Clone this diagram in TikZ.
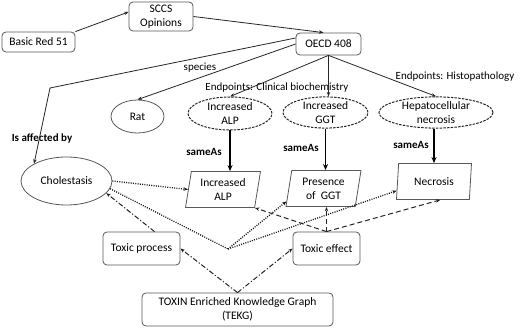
\documentclass[tikz,border=0pt]{standalone}
\usepackage{fontspec}
\setmainfont{Carlito}
\usetikzlibrary{shapes.geometric,arrows.meta,calc}
\begin{document}
\begin{tikzpicture}[x=1pt,y=-1pt,
  every node/.style={font=\fontsize{11.5}{14}\selectfont, align=center, inner sep=0pt},
  rbox/.style={draw=black!65, rounded corners=4pt, line width=0.8pt},
  ell/.style={draw=black!65, ellipse, line width=0.8pt},
  dell/.style={draw=black!85, ellipse, line width=1pt, dash pattern=on 2.5pt off 1.2pt},
  para/.style={draw=black!65, trapezium, trapezium left angle=75, trapezium right angle=105, trapezium stretches body, line width=0.8pt, minimum width=75pt, minimum height=36pt},
  arrtip/.style={-{Stealth[length=4.5pt,width=3.5pt]}},
  conn/.style={draw=black!85, line width=0.8pt, arrtip},
  samearr/.style={draw=black, line width=1.6pt, -{Stealth[length=6pt,width=5pt]}},
  dotconn/.style={draw=black!90, line width=1.3pt, dash pattern=on 1pt off 1.3pt},
  dashconn/.style={draw=black!85, line width=1pt, dash pattern=on 5pt off 3pt},
  ddconn/.style={draw=black!85, line width=1pt, dash pattern=on 5pt off 2pt on 1.2pt off 2pt},
  lab/.style={font=\fontsize{11}{13}\selectfont},
  blab/.style={font=\bfseries\fontsize{11}{13}\selectfont}
]
\fill[white] (0,0) rectangle (520,328);
\useasboundingbox (0,0) rectangle (520,328);

\node[rbox, minimum width=73pt, minimum height=20pt] (br) at (38.5,42) {Basic Red 51};
\node[rbox, minimum width=64pt, minimum height=29pt] (sccs) at (161,16.5) {SCCS\\Opinions};
\node[rbox, minimum width=65pt, minimum height=22pt] (oecd) at (328.5,44) {OECD 408};
\node[ell, minimum width=53pt, minimum height=33pt] (rat) at (137.5,116.5) {Rat};
\node[dell, minimum width=84pt, minimum height=33pt] (alpE) at (230,113.5) {Increased\\ALP};
\node[dell, minimum width=85pt, minimum height=31pt] (ggtE) at (325.5,112.5) {Increased\\GGT};
\node[dell, minimum width=114pt, minimum height=31pt] (necE) at (436,112.5) {Hepatocellular\\necrosis};
\node[para] (alpP) at (223,189.5) {Increased\\ALP};
\node[para] (ggtP) at (323.5,188.5) {Presence\\of~~GGT};
\node[para] (necP) at (434,181.5) {Necrosis};
\node[ell, minimum width=91pt, minimum height=48pt] (chol) at (66.5,181) {Cholestasis};
\node[rbox, minimum width=77pt, minimum height=33pt] (tp) at (141.5,248.5) {Toxic process};
\node[rbox, minimum width=67pt, minimum height=33pt] (te) at (326.5,248.5) {Toxic effect};
\node[rbox, minimum width=191pt, minimum height=33pt] (tekg) at (237.5,309.5) {TOXIN Enriched Knowledge Graph\\(TEKG)};

\node[lab] (lspec) at (200,68) {species};
\node[lab] (lclin) at (277,88) {Endpoints: Clinical biochemistry};
\node[lab] (lhist) at (455,77) {Endpoints: Histopathology};
\node[blab] (laff) at (42,139) {Is affected by};
\node[blab] (ls1) at (204,152) {sameAs};
\node[blab] (ls2) at (301,148) {sameAs};
\node[blab] (ls3) at (411,145) {sameAs};

\coordinate (bend) at (50,88);
\coordinate (conv) at (228,249);

\draw[conn] (br.north east) -- (sccs.172);
\draw[conn] (sccs.east) -- ([xshift=-5pt]oecd.north);
\draw[conn] ([yshift=6pt]oecd.west) -- (bend) -- (chol.152);
\draw[conn] (oecd.west) -- (rat.north);
\draw[conn] (oecd.south) -- (alpE.north);
\draw[conn] (oecd.south) -- (oecd.south |- ggtE.north);
\draw[conn] (oecd.south) -- (necE.north);

\draw[samearr] (alpE.south) -- (alpE.south |- alpP.north);
\draw[samearr] (ggtE.south) -- (ggtE.south |- ggtP.north);
\draw[samearr] ([xshift=-2pt]necE.south) -- ([xshift=-2pt]necE.south |- necP.north);

\draw[dotconn, arrtip] (chol.east) -- (alpP.west);
\draw[dotconn] (chol.-10) -- (conv);
\draw[dotconn, arrtip] (conv) -- ($(ggtP.bottom left corner)!0.15!(ggtP.top left corner)$);
\draw[dotconn, arrtip] (conv) -- ($(necP.bottom left corner)!0.25!(necP.top left corner)$);

\draw[dashconn, arrtip] (te.north) -- (alpP.bottom right corner);
\draw[dashconn, arrtip] (te.north) -- (te.north |- ggtP.south);
\draw[dashconn, arrtip] (te.north) -- ($(necP.bottom left corner)!0.6!(necP.bottom right corner)$);

\draw[ddconn, arrtip] (tekg.north) -- (tp.east);
\draw[ddconn, arrtip] (tekg.north) -- (te.west);
\draw[ddconn, arrtip] ([xshift=13pt]tp.north) -- (chol.-17);
\end{tikzpicture}
\end{document}
